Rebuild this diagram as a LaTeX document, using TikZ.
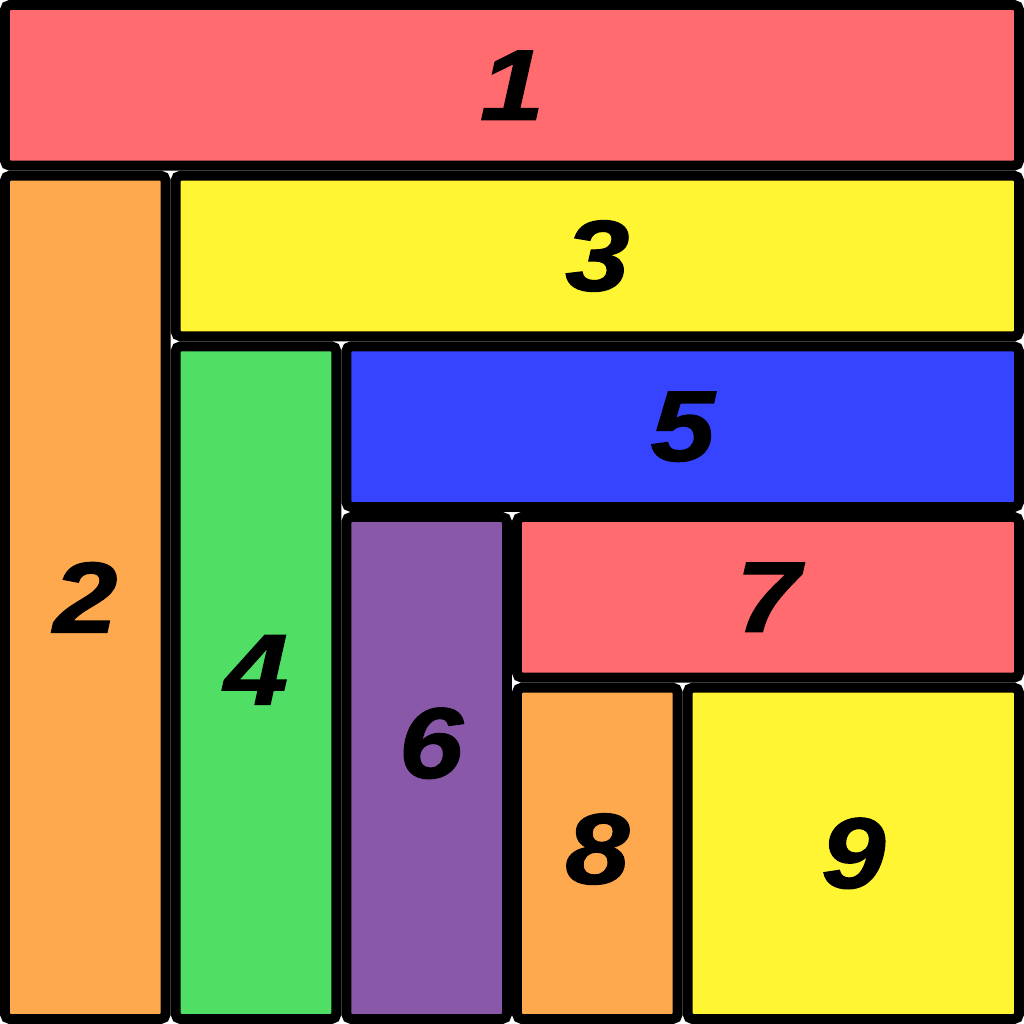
\documentclass[tikz,border=0pt]{standalone}
\usepackage{fontspec}
\setmainfont{Liberation Sans}
\newfontfamily\numfont[BoldItalicFeatures={FakeStretch=1.15,FakeBold=1.2}]{Liberation Sans}
\definecolor{cellred}{HTML}{FF6B6E}
\definecolor{cellorange}{HTML}{FFA94E}
\definecolor{cellyellow}{HTML}{FFF533}
\definecolor{cellgreen}{HTML}{50DF64}
\definecolor{cellblue}{HTML}{3643FF}
\definecolor{cellpurple}{HTML}{8A58A8}
\tikzset{
  cell/.style 2 args={draw=black,line width=3.33pt,rounded corners=1.67pt,inner sep=0pt,
    minimum width={#1*2cm-0.1172cm},minimum height={#2*2cm-0.1172cm}},
  num/.style={font=\numfont\fontsize{33.5}{40}\selectfont\bfseries\itshape,inner sep=0pt}
}
\begin{document}
\begin{tikzpicture}[x=2cm,y=2cm]
  \useasboundingbox (0,0) rectangle (6,6);
  % strips, each one unit wide
  \node[cell={6}{1},fill=cellred] (c1) at (3,5.5) {};
  \node[cell={1}{5},fill=cellorange] (c2) at (0.5,2.5) {};
  \node[cell={5}{1},fill=cellyellow] (c3) at (3.5,4.5) {};
  \node[cell={1}{4},fill=cellgreen] (c4) at (1.5,2) {};
  \node[cell={4}{1},fill=cellblue] (c5) at (4,3.5) {};
  \node[cell={1}{3},fill=cellpurple] (c6) at (2.5,1.5) {};
  \node[cell={3}{1},fill=cellred] (c7) at (4.5,2.5) {};
  \node[cell={1}{2},fill=cellorange] (c8) at (3.5,1) {};
  \node[cell={2}{2},fill=cellyellow] (c9) at (5,1) {};

  % numbers
  \node[num] (n1) at (c1.center) {1};
  \node[num] (n2) at (c2.center) {2};
  \node[num] (n3) at (c3.center) {3};
  \node[num] (n4) at ([yshift=1.5mm]c4.center) {4};
  \node[num] (n5) at (c5.center) {5};
  \node[num] (n6) at ([xshift=0.5mm,yshift=2.9mm]c6.center) {6};
  \node[num] (n7) at (c7.center) {7};
  \node[num] (n8) at ([yshift=0.5mm]c8.center) {8};
  \node[num] (n9) at (c9.center) {9};
\end{tikzpicture}
\end{document}
